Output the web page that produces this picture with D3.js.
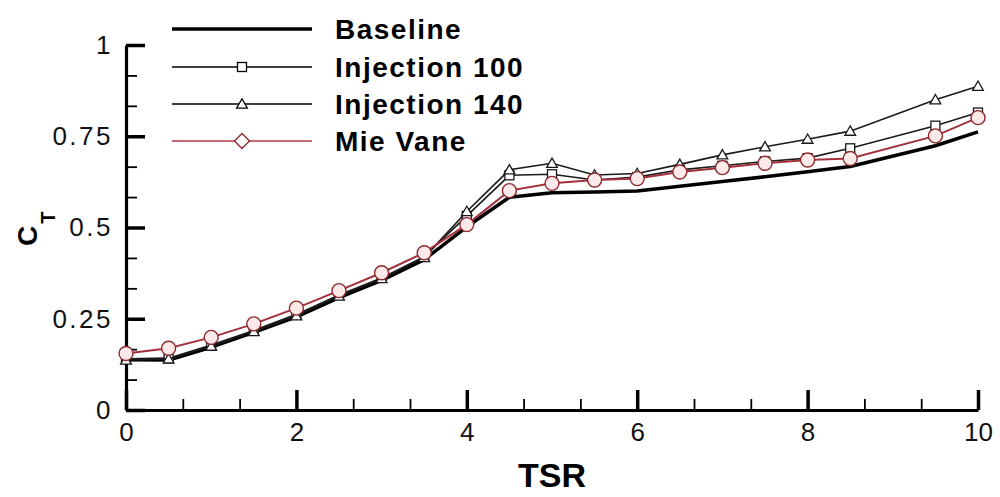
<!DOCTYPE html>
<html>
<head>
<meta charset="utf-8">
<script src="https://cdn.jsdelivr.net/npm/d3@7"></script>
<style>
  body { margin: 0; background: #fff; }
  svg { display: block; }
</style>
</head>
<body>
<div id="chart"></div>
<script>
// dữ liệu
const tsr = [0, 0.5, 1, 1.5, 2, 2.5, 3, 3.5, 4, 4.5, 5, 5.5, 6, 6.5, 7, 7.5, 8, 8.5, 9.5, 10];
const baseline = [0.138, 0.137, 0.172, 0.213, 0.255, 0.308, 0.355, 0.412, 0.502, 0.583, 0.595, 0.597, 0.600, 0.613, 0.626, 0.639, 0.653, 0.667, 0.724, 0.762];
const injection100 = [0.140, 0.142, 0.178, 0.218, 0.262, 0.315, 0.362, 0.420, 0.532, 0.643, 0.646, 0.630, 0.638, 0.658, 0.669, 0.681, 0.690, 0.717, 0.779, 0.815];
const injection140 = [0.137, 0.140, 0.175, 0.215, 0.258, 0.312, 0.360, 0.418, 0.544, 0.658, 0.676, 0.644, 0.648, 0.673, 0.699, 0.721, 0.742, 0.764, 0.850, 0.887];
const mieVane = [0.155, 0.169, 0.199, 0.236, 0.279, 0.327, 0.376, 0.431, 0.508, 0.601, 0.621, 0.630, 0.634, 0.652, 0.664, 0.676, 0.685, 0.689, 0.751, 0.801];
const seriesNames = ["Baseline", "Injection 100", "Injection 140", "Mie Vane"];
const xTicks = [0, 2, 4, 6, 8, 10];
const yTicks = [0, 0.25, 0.5, 0.75, 1];

const width = 1000, height = 497;
const margin = { top: 45, right: 22, bottom: 87, left: 126 };

const svg = d3.select("#chart").append("svg")
    .attr("width", width)
    .attr("height", height);

const x = d3.scaleLinear().domain([0, 10]).range([margin.left, width - margin.right]);
const y = d3.scaleLinear().domain([0, 1]).range([height - margin.bottom, margin.top]);

// minor ticks
const xMinor = d3.range(0, 10.001, 2 / 3).filter(v => Math.abs(v / 2 - Math.round(v / 2)) > 0.01);
const yMinor = d3.range(0, 1.0001, 1 / 12).filter(v => Math.abs(v * 4 - Math.round(v * 4)) > 0.01);

const axisFont = "'Liberation Sans', Arial, sans-serif";

svg.append("g")
    .attr("transform", `translate(0,${y(0)})`)
    .call(d3.axisBottom(x).tickValues(xMinor).tickSize(-11).tickFormat(""))
    .call(g => g.select(".domain").remove())
    .call(g => g.selectAll("line").attr("stroke-width", 1.8));

svg.append("g")
    .attr("transform", `translate(${x(0)},0)`)
    .call(d3.axisLeft(y).tickValues(yMinor).tickSize(-11).tickFormat(""))
    .call(g => g.select(".domain").remove())
    .call(g => g.selectAll("line").attr("stroke-width", 1.8));

svg.append("g")
    .attr("transform", `translate(0,${y(0)})`)
    .call(d3.axisBottom(x).tickValues(xTicks).tickSize(-20).tickSizeOuter(0).tickPadding(13).tickFormat(d3.format("d")))
    .call(g => g.select(".domain").attr("stroke-width", 3.2))
    .call(g => g.selectAll("line").attr("stroke-width", 3.5))
    .call(g => g.selectAll("text").attr("font-size", "26px").attr("font-family", axisFont).attr("fill", "#111"));

svg.append("g")
    .attr("transform", `translate(${x(0)},0)`)
    .call(d3.axisLeft(y).tickValues(yTicks).tickSize(-19).tickSizeOuter(0).tickPadding(13).tickFormat(d => d === 0 || d === 1 ? d : d))
    .call(g => g.select(".domain").attr("stroke-width", 3.2))
    .call(g => g.selectAll("line").attr("stroke-width", 3.5))
    .call(g => g.selectAll("text").attr("font-size", "26px").attr("font-family", axisFont)
        .attr("letter-spacing", "2.5px").attr("fill", "#111"));

// tiêu đề trục
svg.append("text")
    .attr("x", 552)
    .attr("y", 487)
    .attr("text-anchor", "middle")
    .attr("font-family", axisFont)
    .attr("font-weight", "bold")
    .attr("font-size", "34px")
    .text("TSR");

const yLabel = svg.append("text")
    .attr("transform", "translate(37,246) rotate(-90)")
    .attr("font-family", axisFont)
    .attr("font-weight", "bold");
yLabel.append("tspan").attr("font-size", "28px").text("C");
yLabel.append("tspan").attr("font-size", "20px").attr("dx", 2).attr("dy", 18).text("T");

const line = d3.line().x(d => x(d[0])).y(d => y(d[1]));
const pts = vals => tsr.map((t, i) => [t, vals[i]]);

// Baseline
svg.append("path")
    .datum(pts(baseline))
    .attr("fill", "none")
    .attr("stroke", "#000")
    .attr("stroke-width", 3.5)
    .attr("stroke-linejoin", "round")
    .attr("d", line);

// Injection 100
svg.append("path")
    .datum(pts(injection100))
    .attr("fill", "none")
    .attr("stroke", "#1a1a1a")
    .attr("stroke-width", 1.6)
    .attr("d", line);

svg.selectAll(".sq")
    .data(pts(injection100))
    .enter().append("rect")
    .attr("class", "sq")
    .attr("x", d => x(d[0]) - 4.5)
    .attr("y", d => y(d[1]) - 4.5)
    .attr("width", 9)
    .attr("height", 9)
    .attr("fill", "#fff")
    .attr("stroke", "#1a1a1a")
    .attr("stroke-width", 1.3);

// Injection 140
svg.append("path")
    .datum(pts(injection140))
    .attr("fill", "none")
    .attr("stroke", "#1a1a1a")
    .attr("stroke-width", 1.6)
    .attr("d", line);

const tri = d3.symbol().type(d3.symbolTriangle).size(50);
svg.selectAll(".tri")
    .data(pts(injection140))
    .enter().append("path")
    .attr("class", "tri")
    .attr("transform", d => `translate(${x(d[0])},${y(d[1]) + 1})`)
    .attr("d", tri)
    .attr("fill", "#fff")
    .attr("stroke", "#1a1a1a")
    .attr("stroke-width", 1.3);

// Mie Vane
svg.append("path")
    .datum(pts(mieVane))
    .attr("fill", "none")
    .attr("stroke", "#a3303a")
    .attr("stroke-width", 2)
    .attr("d", line);

svg.selectAll(".mie")
    .data(pts(mieVane))
    .enter().append("circle")
    .attr("class", "mie")
    .attr("cx", d => x(d[0]))
    .attr("cy", d => y(d[1]))
    .attr("r", 7)
    .attr("fill", "#fde9e9")
    .attr("stroke", "#8e2a30")
    .attr("stroke-width", 1.4);

// Chú thích
const legendY = [29, 67, 104, 141];
const legend = svg.append("g");
seriesNames.forEach((name, i) => {
    const g = legend.append("g").attr("transform", `translate(0,${legendY[i]})`);
    g.append("line")
        .attr("x1", 172).attr("x2", 312)
        .attr("stroke", i === 3 ? "#b83a44" : "#000")
        .attr("stroke-width", i === 0 ? 3.5 : 1.5);
    if (i === 1) {
        g.append("rect").attr("x", 237.5).attr("y", -4.5).attr("width", 9).attr("height", 9)
            .attr("fill", "#fff").attr("stroke", "#000").attr("stroke-width", 1.3);
    } else if (i === 2) {
        g.append("path").attr("transform", "translate(242,1)").attr("d", tri)
            .attr("fill", "#fff").attr("stroke", "#000").attr("stroke-width", 1.3);
    } else if (i === 3) {
        g.append("path").attr("d", "M242,-7.5L249.5,0L242,7.5L234.5,0Z")
            .attr("fill", "#fff").attr("stroke", "#8e2a30").attr("stroke-width", 1.4);
    }
    g.append("text")
        .attr("x", 335)
        .attr("y", 10)
        .attr("font-family", axisFont)
        .attr("font-weight", "bold")
        .attr("font-size", "28px")
        .attr("letter-spacing", "1.5px")
        .text(name);
});
</script>
</body>
</html>
